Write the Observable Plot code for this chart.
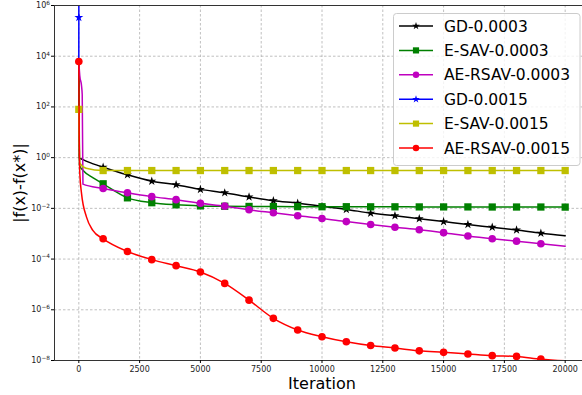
<!DOCTYPE html>
<html><head><meta charset="utf-8">
<script src="https://cdn.jsdelivr.net/npm/d3@7"></script>
<script src="https://cdn.jsdelivr.net/npm/@observablehq/plot@0.6"></script>
<style>
body{margin:0;background:#fff;}
#wrap{position:relative;width:582px;height:395px;font-family:"DejaVu Sans",sans-serif;}
#wrap svg{display:block;}
#legend{position:absolute;left:0;top:0;pointer-events:none;}
</style></head><body><div id="wrap"></div>
<script>
// ---- data ----
const seriesNames = ["GD-0.0003","E-SAV-0.0003","AE-RSAV-0.0003","GD-0.0015","E-SAV-0.0015","AE-RSAV-0.0015"];
const seriesColors = ["#000000","#008000","#bf00bf","#0000ff","#bfbf00","#ff0000"];
const seriesSymbols = ["star","square","circle","star","square","circle"];

const majorIters = [0,1000,2000,3000,4000,5000,6000,7000,8000,9000,10000,11000,12000,13000,14000,15000,16000,17000,18000,19000,20000];

const gd3Iter = [0,20,150,590].concat(majorIters.slice(1));
const gd3Val = [6000,1.0,0.85,0.57, 0.42,0.21,0.118,0.085,0.056,0.041,0.028,0.020,0.016,0.012,0.0091,0.0065,0.0051,0.0039,0.0030,0.0023,0.0018,0.0014,0.00105,0.00083];
const gd3Marks = majorIters.slice(1,20);

const esav3Iter = [0,28,177,590].concat(majorIters.slice(1));
const esav3Val = [6000,0.49,0.31,0.16, 0.093,0.026,0.0167,0.0138,0.0125,0.0121,0.0119,0.0118,0.0117,0.0116,0.0116,0.0115,0.0115,0.0114,0.0114,0.0114,0.0113,0.0113,0.0113,0.0112];
const esav3Marks = majorIters.slice(1);

const aersav3Iter = [0,40,110,140,170].concat(majorIters.slice(1));
const aersav3Val = [6000,1700,700,300,0.09, 0.061,0.041,0.029,0.022,0.016,0.0122,0.0088,0.0067,0.0051,0.0040,0.0030,0.0023,0.0018,0.00144,0.0011,0.00081,0.00063,0.00051,0.00040,0.00032];
const aersav3Marks = majorIters.slice(1,20);

const gd15Iter = [0,1,2];
const gd15Val = [6000,3.4e5,1e12];
const gd15Marks = [1];

const esav15Iter = [0,40,300].concat(majorIters.slice(1));
const esav15Val = [80,0.6,0.38, 0.31,0.31,0.31,0.31,0.31,0.31,0.31,0.31,0.31,0.31,0.31,0.31,0.31,0.31,0.31,0.31,0.31,0.31,0.31,0.31];
const esav15Marks = majorIters.slice(0);

const aersav15Iter = [0,15,41,111,317,576].concat(majorIters.slice(1));
const aersav15Val = [6200,10,0.23,0.039,0.0045,0.00135, 6.3e-4,2.0e-4,9.5e-5,5.5e-5,3.1e-5,1.1e-5,2.4e-6,4.6e-7,1.6e-7,8.7e-8,5.5e-8,3.9e-8,3.1e-8,2.4e-8,2.1e-8,1.8e-8,1.55e-8,1.45e-8,1.13e-8,9.8e-9];
const aersav15Marks = majorIters.slice(0,20);

const xTicks = [0,2500,5000,7500,10000,12500,15000,17500,20000];
const yTicks = [1e-8,1e-6,1e-4,1e-2,1e0,1e2,1e4,1e6];
const yTickExponents = ["−8","−6","−4","−2","0","2","4","6"];
const xLabel = "Iteration";
const yLabel = "|f(x)-f(x*)|";

// ---- build ----
const allIters = [gd3Iter,esav3Iter,aersav3Iter,gd15Iter,esav15Iter,aersav15Iter];
const allVals = [gd3Val,esav3Val,aersav3Val,gd15Val,esav15Val,aersav15Val];
const allMarks = [gd3Marks,esav3Marks,aersav3Marks,gd15Marks,esav15Marks,aersav15Marks];
const dotR = {star: 2.8, square: 4.1, circle: 3.8};

const marks = [
  Plot.gridX(xTicks, {stroke:"#b0b0b0", strokeOpacity:1, strokeWidth:0.8, strokeDasharray:"2.5,2"}),
  Plot.gridY(yTicks, {stroke:"#b0b0b0", strokeOpacity:1, strokeWidth:0.8, strokeDasharray:"2.5,2"})
];
seriesNames.forEach((name, i) => {
  const rows = allIters[i].map((it, j) => ({it, v: allVals[i][j]}));
  const markRows = rows.filter(d => allMarks[i].includes(d.it));
  marks.push(Plot.line(rows, {x:"it", y:"v", stroke: seriesColors[i], strokeWidth:1.5, curve:"monotone-x", clip:true}));
  marks.push(Plot.dot(markRows, {x:"it", y:"v", symbol: seriesSymbols[i], fill: seriesColors[i], stroke:"none", r: dotR[seriesSymbols[i]], clip:true}));
});
marks.push(Plot.frame({stroke:"#333", strokeWidth:1}));
marks.push(Plot.axisX({ticks: xTicks, tickFormat: d3.format("d"), tickSize:3, tickPadding:2.5, fontSize:8, label:null, fill:"#222"}));
marks.push(Plot.axisY({ticks: yTicks, tickFormat: (d) => "10^" + yTickExponents[yTicks.indexOf(d)], tickSize:3, tickPadding:1.5, fontSize:8, label:null, fill:"#222"}));
marks.push(Plot.text([yLabel], {frameAnchor:"left", rotate:-90, dx:-35, fontSize:16, textAnchor:"middle", lineAnchor:"middle", fill:"#000"}));
marks.push(Plot.text([xLabel], {frameAnchor:"bottom", dy:23, fontSize:16, textAnchor:"middle", lineAnchor:"middle", fill:"#000"}));

const chart = Plot.plot({
  width: 582, height: 395,
  marginLeft: 54, marginRight: -7, marginTop: 5, marginBottom: 35,
  x: {domain: [-1000, 21000]},
  y: {type: "log", domain: [1e-8, 1e6]},
  style: {fontFamily: "DejaVu Sans", fontSize: "8px", background: "#fff", overflow: "hidden"},
  marks
});
const wrap = document.getElementById("wrap");
wrap.appendChild(chart);

// superscript exponents on y tick labels
d3.select(chart).selectAll("text").each(function() {
  const t = this.textContent;
  if (t.startsWith("10^")) {
    const exp = t.slice(3);
    const sel = d3.select(this);
    sel.text(null);
    sel.append("tspan").text("10");
    sel.append("tspan").attr("font-size","5.8px").attr("dy","-0.55em").text(exp);
  }
});

// ---- legend overlay ----
const lg = d3.select(wrap).append("svg").attr("id","legend").attr("width",582).attr("height",395);
lg.append("rect").attr("x",393.5).attr("y",13.5).attr("width",186.5).attr("height",152).attr("rx",3)
  .attr("fill","#fff").attr("fill-opacity",0.8).attr("stroke","#cccccc").attr("stroke-width",1);
const symMap = {star: d3.symbolStar, square: d3.symbolSquare, circle: d3.symbolCircle};
seriesNames.forEach((name, i) => {
  const cy = 26 + i * 24.4;
  const g = lg.append("g");
  g.append("line").attr("x1",399).attr("x2",433).attr("y1",cy).attr("y2",cy).attr("stroke",seriesColors[i]).attr("stroke-width",1.5);
  const r = dotR[seriesSymbols[i]] * 0.85;
  g.append("path").attr("transform",`translate(416,${cy})`).attr("d", d3.symbol(symMap[seriesSymbols[i]], Math.PI*r*r)()).attr("fill",seriesColors[i]);
  g.append("text").attr("x",444).attr("y",cy).attr("dy","0.36em").attr("font-size","15.5px").attr("font-family","DejaVu Sans").attr("fill","#000").text(name);
});
</script></body></html>
